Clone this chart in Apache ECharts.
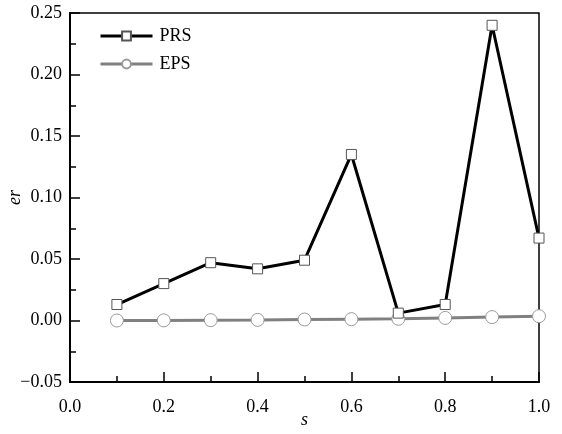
<!DOCTYPE html>
<html>
<head>
<meta charset="utf-8">
<script src="https://cdn.jsdelivr.net/npm/echarts@6/dist/echarts.min.js"></script>
<style>
  html, body { margin: 0; padding: 0; background: #fff; }
  #main { width: 562px; height: 434px; }
</style>
</head>
<body>
<div id="main"></div>
<script>
// 数据
let sValues = [0.1, 0.2, 0.3, 0.4, 0.5, 0.6, 0.7, 0.8, 0.9, 1.0],
    prsValues = [0.013, 0.030, 0.047, 0.042, 0.049, 0.135, 0.006, 0.013, 0.240, 0.067],
    epsValues = [0.0000, 0.0001, 0.0003, 0.0005, 0.0008, 0.0011, 0.0014, 0.0021, 0.0028, 0.0035];

let font = 'Liberation Serif';

function pairs(ys) {
    return sValues.map((x, i) => [x, ys[i]]);
}

let myChart = echarts.init(document.getElementById('main'));

myChart.setOption({
    animation: false,
    grid: {
        left: 70, right: 23, top: 13, bottom: 52,
        outerBoundsMode: 'none',
        containLabel: false,
        show: true,
        borderColor: '#000',
        borderWidth: 1.5
    },
    legend: {
        orient: 'vertical',
        left: 94,
        top: 22,
        itemWidth: 52,
        itemHeight: 11,
        itemGap: 10,
        lineStyle: { width: 3 },
        textStyle: { fontFamily: font, fontSize: 18, color: '#000', padding: [0, 0, 0, 2] },
        data: ['PRS', 'EPS']
    },
    xAxis: {
        type: 'value',
        min: 0, max: 1, interval: 0.2,
        name: 's',
        nameLocation: 'middle',
        nameMoveOverlap: false,
        nameGap: 29,
        nameTextStyle: { fontFamily: font, fontSize: 18, fontStyle: 'italic', color: '#000' },
        axisLine: { onZero: false, lineStyle: { color: '#000', width: 2 } },
        axisTick: { inside: true, length: 10, lineStyle: { color: '#000', width: 1.5 } },
        minorTick: { show: true, splitNumber: 2, length: 6, lineStyle: { color: '#000', width: 1.5 } },
        splitLine: { show: false },
        axisLabel: {
            fontFamily: font, fontSize: 18, color: '#000', margin: 16,
            formatter: v => v.toFixed(1)
        }
    },
    yAxis: {
        type: 'value',
        min: -0.05, max: 0.25, interval: 0.05,
        name: 'er',
        nameLocation: 'middle',
        nameMoveOverlap: false,
        nameGap: 46,
        nameTextStyle: { fontFamily: font, fontSize: 18, fontStyle: 'italic', color: '#000' },
        axisLine: { show: true, onZero: false, lineStyle: { color: '#000', width: 2 } },
        axisTick: { show: true, inside: true, length: 10, lineStyle: { color: '#000', width: 1.5 } },
        minorTick: { show: true, splitNumber: 2, length: 6, lineStyle: { color: '#000', width: 1.5 } },
        splitLine: { show: false },
        axisLabel: {
            fontFamily: font, fontSize: 18, color: '#000', margin: 8,
            formatter: v => (v < 0 ? '\u2212' : '') + Math.abs(v).toFixed(2)
        }
    },
    series: [
        {
            name: 'PRS',
            type: 'line',
            data: pairs(prsValues),
            symbol: 'rect',
            symbolSize: 10,
            showAllSymbol: true,
            lineStyle: { color: '#000', width: 3 },
            itemStyle: { color: '#fff', borderColor: '#555', borderWidth: 1 },
            z: 3
        },
        {
            name: 'EPS',
            type: 'line',
            data: pairs(epsValues),
            symbol: 'circle',
            symbolSize: 13,
            showAllSymbol: true,
            lineStyle: { color: '#808080', width: 3 },
            itemStyle: { color: '#fff', borderColor: '#999', borderWidth: 1 },
            z: 2
        }
    ]
});
</script>
</body>
</html>
